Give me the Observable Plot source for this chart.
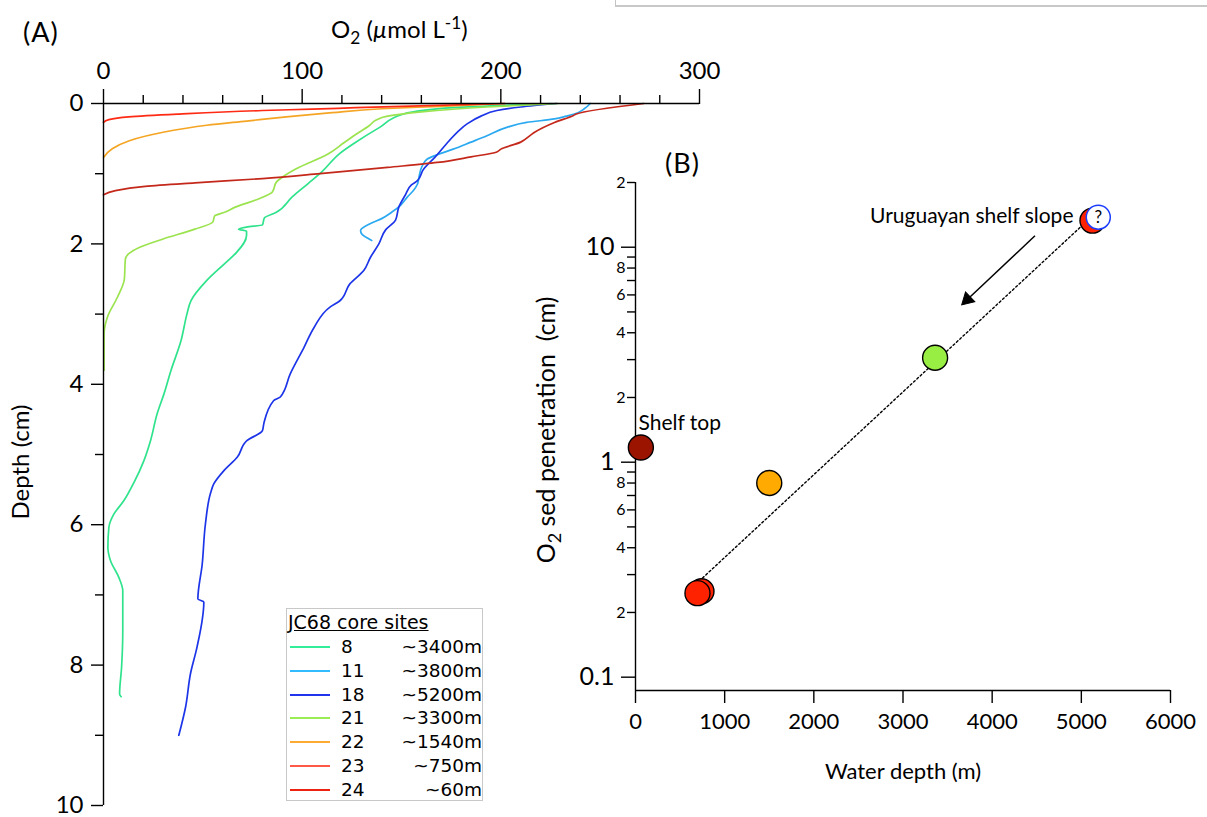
<!DOCTYPE html>
<html><head><meta charset="utf-8">
<script src="https://cdn.jsdelivr.net/npm/d3@7"></script>
<script src="https://cdn.jsdelivr.net/npm/@observablehq/plot@0.6"></script>
<style>
html,body{margin:0;padding:0;background:#fff;}
#root{position:relative;width:1207px;height:817px;overflow:hidden;font-family:Lato,sans-serif;color:#000;}
.abs{position:absolute;white-space:nowrap;line-height:1;}
.rot{transform:translate(-50%,-50%) rotate(-90deg);}
sub{font-size:0.72em;vertical-align:-0.35em;line-height:0;}
sup{font-size:0.72em;vertical-align:0.55em;line-height:0;}
#legend{position:absolute;left:286px;top:608px;width:197px;height:193px;box-sizing:border-box;border:1px solid #c8c8c8;font-family:"DejaVu Sans",sans-serif;font-size:18.5px;background:#fff;}
#legend .title{position:absolute;left:1px;top:3px;text-decoration:underline;white-space:nowrap;line-height:20px;font-size:19px;}
#legend .row{position:absolute;left:0;width:195px;height:24px;line-height:24px;}
#legend .sw{position:absolute;left:3px;top:11px;width:40px;height:2px;}
#legend .num{position:absolute;left:54px;}
#legend .dep{position:absolute;right:0px;}
#frag{position:absolute;left:615px;top:-2px;width:620px;height:7px;border-left:1px solid #c4c4c4;border-bottom:2px solid #c8c8c8;}
</style></head><body><div id="root"></div>
<script>
// ---------- Panel A data: O2 (µmol/L) vs depth (cm) ----------
const sites = ["8","11","18","21","22","23","24"];
const siteDepths = ["~3400m","~3800m","~5200m","~3300m","~1540m","~750m","~60m"];
const lineColors = ["#2fe38c","#2ba9f0","#1c35e8","#9be34f","#f5a524","#ff2a14","#c4281a"];
const legendColors = ["#33ee99","#33bbff","#2233ee","#99ee55","#ffaa33","#ff5a48","#ee2211"];

const profile8 = [[226,0],[176,0.06],[151,0.15],[139,0.34],[126,0.57],[119,0.71],[110,0.97],[103,1.14],[95,1.33],[87,1.55],[81,1.63],[80,1.73],[72,1.76],[68,1.79],[72,1.82],[72,1.88],[67,2.12],[61,2.28],[52,2.52],[44,2.81],[42,3.0],[39,3.38],[34,3.8],[30.4,4.14],[27,4.42],[23.7,4.8],[20.3,5.09],[15.3,5.4],[10.2,5.66],[5.2,5.85],[2.7,6.04],[2.2,6.32],[3.5,6.51],[7.7,6.75],[9.7,6.94],[9.7,7.51],[9.1,8.03],[8.1,8.41],[8.9,8.45]];
const profile11 = [[245,0],[242,0.076],[237,0.15],[233,0.18],[227,0.22],[213,0.27],[203,0.34],[193,0.46],[185,0.55],[176,0.65],[168,0.73],[163,0.79],[161,0.86],[159.6,0.95],[158.8,1.05],[158,1.15],[156,1.24],[153,1.33],[149.5,1.45],[145,1.55],[140,1.64],[134.4,1.71],[129.4,1.81],[130,1.86],[135,1.95]];
const profile18 = [[228,0],[210,0.05],[198,0.10],[190,0.18],[183,0.29],[178,0.41],[174,0.53],[167,0.76],[161,0.94],[158,1.10],[155,1.16],[152,1.30],[148.6,1.48],[147,1.66],[142,1.8],[138.6,2.0],[134.4,2.19],[131,2.38],[124,2.57],[119,2.81],[114,2.90],[106,3.19],[101,3.47],[94,3.85],[89,4.18],[85.7,4.23],[80.7,4.56],[80,4.66],[72.3,4.80],[67.3,5.04],[60.6,5.23],[55.5,5.42],[53.9,5.55],[51.3,5.99],[49.7,6.56],[47.5,7.06],[50.5,7.10],[47.1,7.74],[43.8,8.12],[41.3,8.60],[37.9,9.0]];
const profile21 = [[229,0],[193,0.05],[160,0.12],[143,0.18],[137,0.24],[134,0.31],[126,0.46],[121,0.56],[113,0.72],[97,0.93],[90,1.05],[87,1.12],[85,1.26],[78,1.36],[66,1.48],[61,1.55],[56,1.60],[55,1.69],[46,1.79],[30,1.93],[18,2.05],[12.7,2.14],[11,2.22],[10.5,2.5],[7,2.76],[2,3.04],[0.3,3.28],[0.3,3.8]];
const profile22 = [[202,0],[170,0.04],[140,0.075],[115,0.13],[92,0.19],[72,0.25],[52,0.31],[30,0.41],[13,0.53],[4.4,0.645],[0,0.77]];
const profile23 = [[202,0],[150,0.04],[127,0.06],[105,0.08],[80,0.10],[38,0.15],[12.7,0.19],[2.7,0.23],[0,0.27]];
const profile24 = [[272,0],[238,0.15],[236.6,0.17],[227,0.27],[217,0.41],[215,0.45],[210,0.55],[200,0.65],[198,0.69],[185,0.76],[168,0.84],[143,0.91],[109,1.0],[80,1.07],[46,1.13],[21,1.18],[6,1.24],[0,1.30]];
const profileList = [profile8, profile11, profile18, profile21, profile22, profile23, profile24];

const o2MajorTicks = [0,100,200,300];
const o2MinorTicks = [20,40,60,80,120,140,160,180,220,240,260,280];
const depthMajorTicks = [0,2,4,6,8,10];
const depthMinorTicks = [1,3,5,7,9];

// ---------- Panel B data: O2 penetration vs water depth ----------
const ptDepth = [60, 1500, 3360, 740, 695, 5125];
const ptPen   = [1.17, 0.80, 3.06, 0.251, 0.246, 13.3];
const ptFill  = ["#9a1400","#ffaa00","#99ee44","#ff2200","#ff2200","#ff2200"];
const qDepth = [5190], qPen = [13.8];
const trendDepth = [715, 5060], trendPen = [0.28, 13.2];
const arrowFrom = [4480, 11.3], arrowTo = [3660, 5.4];
const annoText = ["Uruguayan shelf slope", "Shelf top"];
const annoDepth = [4912, 34], annoPen = [13.9, 1.51], annoAnchor = ["end","start"];
const wdTicks = [0,1000,2000,3000,4000,5000,6000];
const penMajorTicks = [0.1, 1, 10], penMajorLabels = ["0.1","1","10"];
const penMinorTicks = [0.2,0.4,0.6,0.8,2,4,6,8,20], penMinorLabels = ["2","4","6","8","2","4","6","8","2"];
const penBlankTicks = [0.3,0.5,0.7,0.9,3,5,7,9];
const penDomain = [0.0867, 20];

const root = document.getElementById("root");
const L = Math.log10;

// ---------- Panel A ----------
const rowsA = sites.flatMap((s, i) => profileList[i].map(([o2, depth]) => ({site: s, o2, depth})));
const plotA = Plot.plot({
  width: 720, height: 817,
  marginTop: 103, marginLeft: 103, marginRight: 21, marginBottom: 12,
  x: {domain: [0, 300], label: null},
  y: {domain: [0, 10], reverse: true, label: null},
  color: {domain: sites, range: lineColors},
  style: {background: "transparent", overflow: "visible", fontFamily: "Lato, sans-serif", color: "black"},
  marks: [
    Plot.line(rowsA, {x: "o2", y: "depth", z: "site", stroke: "site", strokeWidth: 1.7, curve: "monotone-y"}),
    Plot.ruleY([0], {stroke: "black", strokeWidth: 1.4}),
    Plot.ruleX([0], {stroke: "black", strokeWidth: 1.4}),
    Plot.axisX({anchor: "top", ticks: o2MajorTicks, tickSize: 15, tickPadding: 10, fontSize: 24, strokeWidth: 1.4, label: null, tickFormat: d3.format("d")}),
    Plot.axisX({anchor: "top", ticks: o2MinorTicks, tickSize: 9, strokeWidth: 1.4, label: null, tickFormat: () => ""}),
    Plot.axisY({anchor: "left", ticks: depthMajorTicks, tickSize: 12, tickPadding: 8, fontSize: 24, strokeWidth: 1.4, label: null, tickFormat: d3.format("d")}),
    Plot.axisY({anchor: "left", ticks: depthMinorTicks, tickSize: 8, strokeWidth: 1.4, label: null, tickFormat: () => ""})
  ]
});
plotA.style.position = "absolute"; plotA.style.left = "0px"; plotA.style.top = "0px";
root.appendChild(plotA);

// ---------- Panel B (log10 of penetration on a linear scale) ----------
const pts = ptDepth.map((d, i) => ({depth: d, pen: ptPen[i], fill: ptFill[i]}));
const qpts = qDepth.map((d, i) => ({depth: d, pen: qPen[i]}));
const trend = trendDepth.map((d, i) => ({depth: d, pen: trendPen[i]}));
const annos = annoText.map((t, i) => ({text: t, depth: annoDepth[i], pen: annoPen[i], anchor: annoAnchor[i]}));
const majMap = new Map(penMajorTicks.map((t, i) => [L(t), penMajorLabels[i]]));
const minMap = new Map(penMinorTicks.map((t, i) => [L(t), penMinorLabels[i]]));
const ly = d => L(d.pen);
// arrow: shaft + filled head placed just behind the tip along the shaft
const arrowSeg = [{x1: arrowFrom[0], y1: L(arrowFrom[1]), x2: arrowTo[0], y2: L(arrowTo[1])}];
const headT = 0.075;
const arrowHead = [{x: arrowTo[0] + (arrowFrom[0] - arrowTo[0]) * headT, y: L(arrowTo[1]) + (L(arrowFrom[1]) - L(arrowTo[1])) * headT}];

const plotB = Plot.plot({
  width: 707, height: 677,
  marginLeft: 135, marginRight: 37, marginTop: 42, marginBottom: 127,
  x: {domain: [0, 6000], label: null},
  y: {type: "linear", domain: penDomain.map(L), label: null},
  color: {type: "identity"},
  style: {background: "transparent", overflow: "visible", fontFamily: "Lato, sans-serif", color: "black"},
  marks: [
    Plot.ruleX([0], {stroke: "black", strokeWidth: 1.4}),
    Plot.ruleY([L(penDomain[0])], {stroke: "black", strokeWidth: 1.4}),
    Plot.line(trend, {x: "depth", y: ly, stroke: "black", strokeWidth: 1.4, strokeDasharray: "2,2.5"}),
    Plot.link(arrowSeg, {x1: "x1", y1: "y1", x2: d => d.x1 + (d.x2 - d.x1) * (1 - headT), y2: d => d.y1 + (d.y2 - d.y1) * (1 - headT), stroke: "black", strokeWidth: 1.5}),
    Plot.dot(arrowHead, {x: "x", y: "y", symbol: "triangle", r: 5, fill: "black", stroke: "black", strokeWidth: 1, rotate: 226.6}),
    Plot.dot(pts, {x: "depth", y: ly, r: 12.5, fill: "fill", stroke: "black", strokeWidth: 1.4}),
    Plot.dot(qpts, {x: "depth", y: ly, r: 12, fill: "white", stroke: "#1a3cff", strokeWidth: 1.5}),
    Plot.text(qpts, {x: "depth", y: ly, text: () => "?", fontSize: 17, fill: "black"}),
    Plot.text(annos.filter(a => a.anchor === "end"), {x: "depth", y: ly, text: "text", textAnchor: "end", fontSize: 21, fill: "black"}),
    Plot.text(annos.filter(a => a.anchor === "start"), {x: "depth", y: ly, text: "text", textAnchor: "start", fontSize: 21, fill: "black"}),
    Plot.axisX({anchor: "bottom", ticks: wdTicks, tickSize: 13, tickPadding: 10, fontSize: 22, strokeWidth: 1.4, label: null, tickFormat: d3.format("d")}),
    Plot.axisY({anchor: "left", ticks: penMajorTicks.map(L), tickSize: 14, tickPadding: 7, fontSize: 25, strokeWidth: 1.4, label: null, tickFormat: d => majMap.get(d)}),
    Plot.axisY({anchor: "left", ticks: penMinorTicks.map(L), tickSize: 8, tickPadding: 2, fontSize: 16, strokeWidth: 1.4, label: null, tickFormat: d => minMap.get(d)}),
    Plot.axisY({anchor: "left", ticks: penBlankTicks.map(L), tickSize: 8, strokeWidth: 1.4, label: null, tickFormat: () => ""})
  ]
});
plotB.style.position = "absolute"; plotB.style.left = "500px"; plotB.style.top = "140px";
root.appendChild(plotB);

// ---------- HTML text ----------
function addText(html, css, cls = "abs") {
  const d = document.createElement("div");
  d.className = cls; d.innerHTML = html; Object.assign(d.style, css); root.appendChild(d); return d;
}
addText("", {}, "").id = "frag";
addText("(A)", {left: "23px", top: "18px", fontSize: "27px", letterSpacing: "1px"});
addText("O<sub>2</sub> (<i>µ</i>mol L<sup>-1</sup>)", {left: "331px", top: "17px", fontSize: "24px"});
addText("Depth (cm)", {left: "20px", top: "462px", fontSize: "24px"}, "abs rot");
addText("(B)", {left: "665px", top: "149px", fontSize: "27px", letterSpacing: "1px"});
addText("O<sub>2</sub> sed penetration&nbsp; (cm)", {left: "545px", top: "430px", fontSize: "25px"}, "abs rot");
addText("Water depth (m)", {left: "903px", top: "771px", fontSize: "22px", transform: "translate(-50%,-50%)"});

// legend
const lg = document.createElement("div"); lg.id = "legend";
lg.innerHTML = `<div class="title">JC68 core sites</div>` + sites.map((s, i) =>
  `<div class="row" style="top:${25.7 + i * 23.9}px"><div class="sw" style="background:${legendColors[i]}"></div><span class="num">${s}</span><span class="dep">${siteDepths[i]}</span></div>`
).join("");
root.appendChild(lg);
</script></body></html>
